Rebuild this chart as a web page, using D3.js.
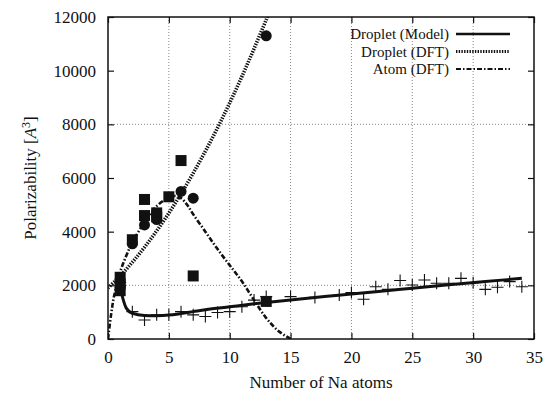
<!DOCTYPE html>
<html><head><meta charset="utf-8">
<script src="https://cdn.jsdelivr.net/npm/d3@7"></script>
<style>body{margin:0;background:#fff}svg{display:block}</style>
</head><body><svg id="c" width="545" height="398" font-family="'Liberation Serif', 'Times New Roman', 'DejaVu Serif', serif"></svg>
<script>
const xTicks=[0,5,10,15,20,25,30,35];
const yTicks=[0,2000,4000,6000,8000,10000,12000];
const xGrid=[5,10,15,20,25,30];
const yGrid=[2000,8000];
const legendLabels=["Droplet (Model)","Droplet (DFT)","Atom (DFT)"];
const modelX=[1,1.5,2,3,4,5,6,7,8,10,12,14,16,18,20,22,25,28,31,34];
const modelY=[1900,1150,960,880,870,890,950,1020,1090,1200,1310,1410,1500,1590,1680,1760,1890,2020,2140,2260];
const dropDftX=[0,1,2,3,4,5,6,7,8,9,10,11,12,13,13.5];
const dropDftY=[1900,2350,2860,3420,4030,4690,5410,6180,7000,7870,8800,9780,10820,11900,12450];
const atomX=[0,0.25,0.5,1,1.5,2,3,4,5,5.5,6,6.5,7,8,9,10,11,12,13,14,15];
const atomY=[0,900,1600,2500,3100,3600,4350,4950,5280,5330,5250,5000,4650,4000,3350,2750,2150,1450,780,300,0];
const sqX=[1,1,1,2,3,3,4,4,5,6,7,13];
const sqY=[1800,2050,2300,3700,4600,5200,4700,4550,5300,6650,2350,1400];
const circX=[1,2,3,4,6,7,13];
const circY=[2000,3550,4250,4450,5500,5250,11300];
const plusX=[1,2,3,4,5,6,7,8,9,10,11,12,13,15,17,19,20,21,22,23,24,25,26,27,28,29,30,31,32,33,34];
const plusY=[2100,1020,710,900,900,1020,900,840,990,1020,1200,1450,1580,1580,1550,1640,1730,1480,1950,1850,2180,2010,2200,2080,2080,2260,2100,1850,1930,2140,1950];

const FONT="'Liberation Serif', 'Times New Roman', 'DejaVu Serif', serif";
const svg=d3.select("#c");
const L=108,R=534,T=17,B=339;
const x=d3.scaleLinear().domain([0,35]).range([L,R]);
const y=d3.scaleLinear().domain([0,12000]).range([B,T]);

svg.append("defs").append("clipPath").attr("id","clip").append("rect").attr("x",L).attr("y",T).attr("width",R-L).attr("height",B-T);

// grid
const g=svg.append("g");
g.selectAll("line.vg").data(xGrid).join("line").attr("x1",d=>x(d)).attr("x2",d=>x(d)).attr("y1",T).attr("y2",B)
 .attr("stroke","#666").attr("stroke-width",0.8).attr("stroke-dasharray","1,2");
g.selectAll("line.hg").data(yGrid).join("line").attr("y1",d=>y(d)).attr("y2",d=>y(d)).attr("x1",L).attr("x2",R)
 .attr("stroke","#666").attr("stroke-width",0.8).attr("stroke-dasharray","1,2");

// axes with inward ticks
const axB=d3.axisBottom(x).tickValues(xTicks).tickSize(-6).tickPadding(12).tickFormat(d3.format("d"));
const axT=d3.axisTop(x).tickValues(xTicks).tickSize(-6).tickFormat("");
const axL=d3.axisLeft(y).tickValues(yTicks).tickSize(-6).tickPadding(12).tickFormat(d3.format("d"));
const axR=d3.axisRight(y).tickValues(yTicks).tickSize(-6).tickFormat("");
function styl(s){s.attr("font-family",FONT).attr("font-size",17);s.select(".domain").remove();s.selectAll("line").attr("stroke","#111").attr("stroke-width",1.2);s.selectAll("text").attr("fill","#111");}
svg.append("g").attr("transform",`translate(0,${B})`).call(axB).call(styl);
svg.append("g").attr("transform",`translate(0,${T})`).call(axT).call(styl);
svg.append("g").attr("transform",`translate(${L},0)`).call(axL).call(styl);
svg.append("g").attr("transform",`translate(${R},0)`).call(axR).call(styl);
svg.append("rect").attr("x",L).attr("y",T).attr("width",R-L).attr("height",B-T).attr("fill","none").attr("stroke","#111").attr("stroke-width",1.5);

const line=d3.line().x(d=>x(d[0])).y(d=>y(d[1])).curve(d3.curveMonotoneX);
const line2=d3.line().x(d=>x(d[0])).y(d=>y(d[1])).curve(d3.curveCatmullRom);
const P=svg.append("g").attr("clip-path","url(#clip)");
const styles=[{w:3,da:null},{w:3.6,da:"1.4,1.3"},{w:2.6,da:"5,2,1.5,2"}];

P.append("path").datum(dropDftX.map((v,i)=>[v,dropDftY[i]])).attr("d",line2).attr("fill","none").attr("stroke","#111").attr("stroke-width",styles[1].w).attr("stroke-dasharray",styles[1].da);
P.append("path").datum(atomX.map((v,i)=>[v,atomY[i]])).attr("d",line2).attr("fill","none").attr("stroke","#111").attr("stroke-width",styles[2].w).attr("stroke-dasharray",styles[2].da);
P.append("path").datum(modelX.map((v,i)=>[v,modelY[i]])).attr("d",line).attr("fill","none").attr("stroke","#111").attr("stroke-width",styles[0].w);

// markers
P.selectAll("rect.sq").data(sqX.map((v,i)=>[v,sqY[i]])).join("rect").attr("x",d=>x(d[0])-5.5).attr("y",d=>y(d[1])-5.5).attr("width",11).attr("height",11).attr("fill","#111");
P.selectAll("circle.ci").data(circX.map((v,i)=>[v,circY[i]])).join("circle").attr("cx",d=>x(d[0])).attr("cy",d=>y(d[1])).attr("r",5.5).attr("fill","#111");
P.selectAll("path.pl").data(plusX.map((v,i)=>[v,plusY[i]])).join("path")
 .attr("d",d=>{const cx=x(d[0]),cy=y(d[1]);return `M${cx-6},${cy}H${cx+6}M${cx},${cy-6}V${cy+6}`;})
 .attr("stroke","#111").attr("stroke-width",1.1).attr("fill","none");

// legend
const leg=svg.append("g");
legendLabels.forEach((t,i)=>{
  const yy=34+i*17.5;
  leg.append("text").attr("x",449).attr("y",yy+5).attr("text-anchor","end").attr("font-family",FONT).attr("font-size",15).attr("fill","#111").text(t);
  leg.append("line").attr("x1",456).attr("x2",510).attr("y1",yy).attr("y2",yy).attr("stroke","#111")
   .attr("stroke-width",styles[i].w*0.8).attr("stroke-dasharray",styles[i].da);
});

// axis titles
svg.append("text").attr("x",(L+R)/2).attr("y",388).attr("text-anchor","middle").attr("font-family",FONT).attr("font-size",17).attr("fill","#111").text("Number of Na atoms");
const yl=svg.append("text").attr("transform","translate(36,178) rotate(-90)").attr("text-anchor","middle").attr("font-family",FONT).attr("font-size",17).attr("fill","#111");
yl.append("tspan").text("Polarizability [");
yl.append("tspan").attr("font-style","italic").text("A");
yl.append("tspan").attr("dy",-6).attr("font-size",12).text("3");
yl.append("tspan").attr("dy",6).text("]");
</script></body></html>
